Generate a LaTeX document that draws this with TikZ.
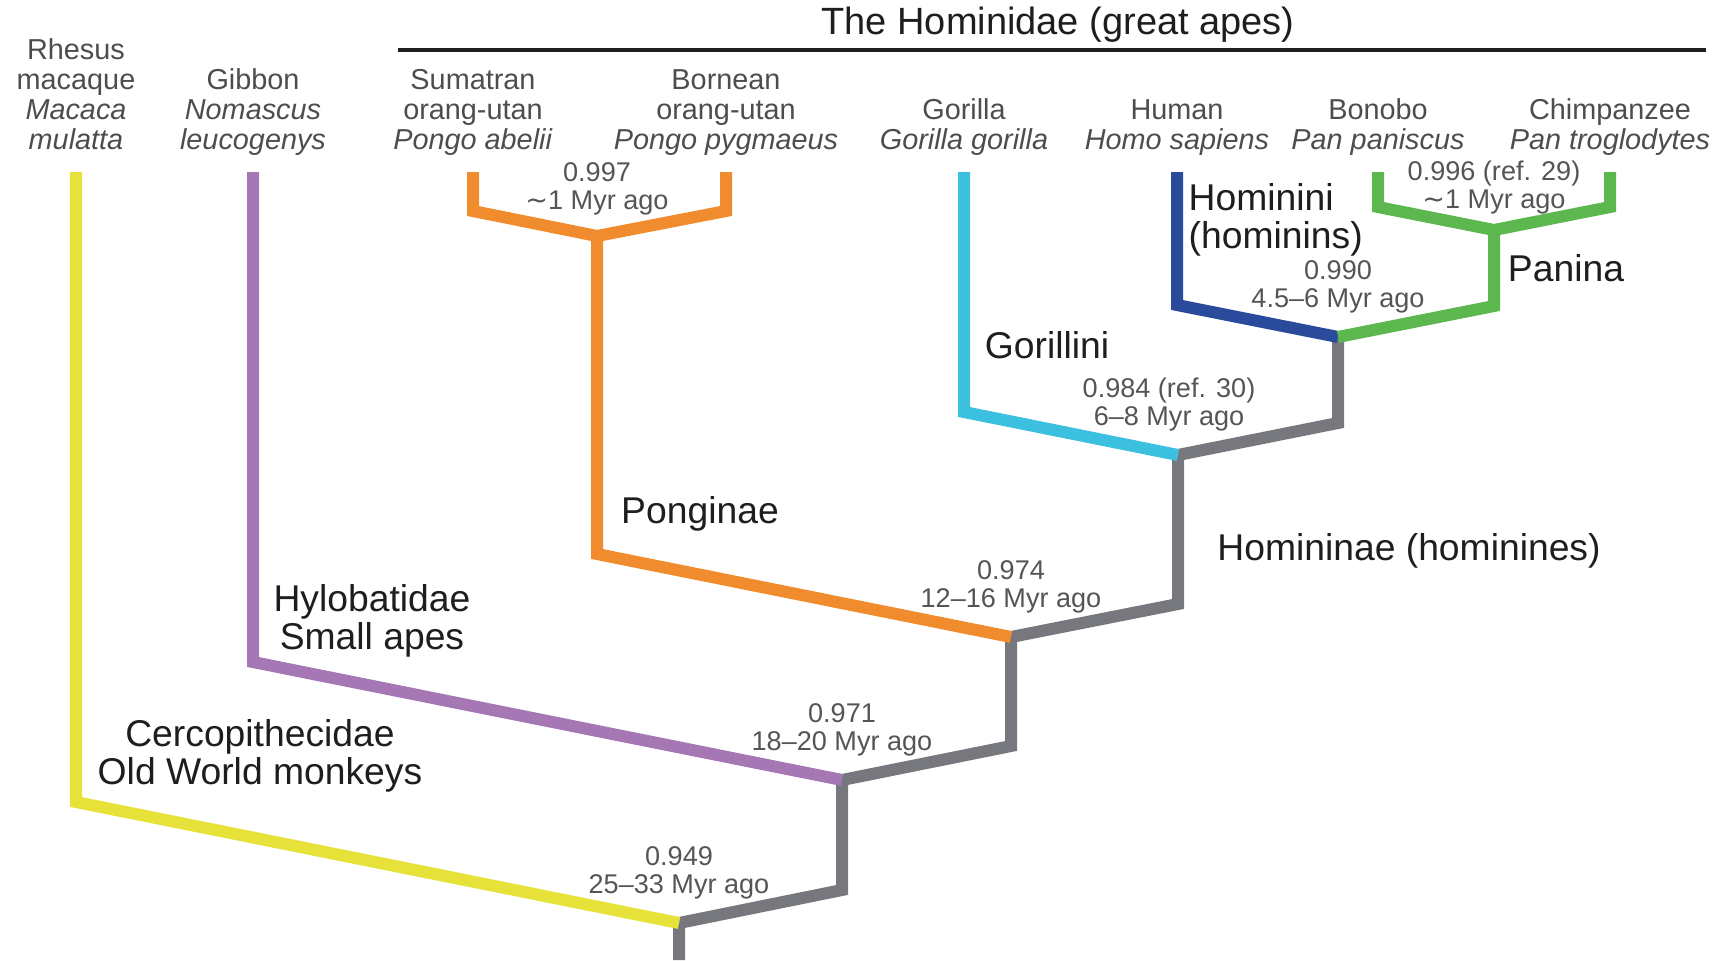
\documentclass[tikz,border=0pt]{standalone}
\usepackage{fontspec}
\setmainfont{Liberation Sans}
\newfontfamily\tildefont{DejaVu Sans}
\usepackage{tikz}
\usetikzlibrary{positioning, calc}
\definecolor{monkeyyellow}{HTML}{E6E23A}
\definecolor{gibbonpurple}{HTML}{A577B5}
\definecolor{orangorange}{HTML}{F08C2E}
\definecolor{gorillacyan}{HTML}{3CC0E0}
\definecolor{humanblue}{HTML}{2A4A9B}
\definecolor{pangreen}{HTML}{5CB84E}
\definecolor{stemgray}{HTML}{77787E}
\definecolor{labelgray}{HTML}{4D4D4D}
\definecolor{agegray}{HTML}{555555}
\definecolor{dark}{HTML}{1E1E1E}
\newcommand{\about}{{\tildefont ∼}}
\tikzset{
    branch/.style={
        line width=0.12cm, draw=#1, line join=miter, line cap=butt
    },
    branch/.default=stemgray,
    specieslab/.style={
        font=\fontsize{8.2}{8.5}\selectfont, text=labelgray,
        align=center, inner sep=0pt
    },
    agelab/.style={
        font=\fontsize{7.7}{8}\selectfont, text=agegray,
        align=center, inner sep=0pt
    },
    cladelab/.style={
        font=\fontsize{10.6}{10.8}\selectfont, text=dark,
        align=center, inner sep=0pt
    },
}

\begin{document}
\begin{tikzpicture}[x=0.01cm, y=-0.01cm]
    \useasboundingbox (0,0) rectangle (1718,960);

    % split points
    \coordinate (root) at (679,923);
    \coordinate (apes) at (842,780);
    \coordinate (hominidae) at (1011,637);
    \coordinate (homininae) at (1178,455);
    \coordinate (hominini) at (1338,337);
    \coordinate (panina) at (1494,230);
    \coordinate (pongo) at (597,236);

    % tips
    \coordinate (rhesus-tip) at (76,172);
    \coordinate (gibbon-tip) at (253,172);
    \coordinate (sumatran-tip) at (473,172);
    \coordinate (bornean-tip) at (726,172);
    \coordinate (gorilla-tip) at (964,172);
    \coordinate (human-tip) at (1177,172);
    \coordinate (bonobo-tip) at (1378,172);
    \coordinate (chimp-tip) at (1610,172);

    % bends
    \coordinate (rhesus-bend) at (76,802);
    \coordinate (gibbon-bend) at (253,662);
    \coordinate (pongo-bend) at (597,554);
    \coordinate (gorilla-bend) at (964,412);
    \coordinate (human-bend) at (1177,305);
    \coordinate (sumatran-bend) at (473,211);
    \coordinate (bornean-bend) at (726,211);
    \coordinate (bonobo-bend) at (1378,207);
    \coordinate (chimp-bend) at (1610,207);
    \coordinate (apes-bend) at (842,890);
    \coordinate (hominidae-bend) at (1011,746);
    \coordinate (homininae-bend) at (1178,604);
    \coordinate (hominini-bend) at (1338,423);
    \coordinate (panina-bend) at (1494,306);
    \coordinate (root-foot) at (679,960);

    % grey stem
    \draw[branch] (root-foot) -- (root) -- (apes-bend) -- (apes);
    \draw[branch] (apes) -- (hominidae-bend) -- (hominidae);
    \draw[branch] (hominidae) -- (homininae-bend) -- (homininae);
    \draw[branch] (homininae) -- (hominini-bend) -- (hominini);

    % coloured clades
    \draw[branch=monkeyyellow] (rhesus-tip) -- (rhesus-bend) -- (root);
    \draw[branch=gibbonpurple] (gibbon-tip) -- (gibbon-bend) -- (apes);
    \draw[branch=orangorange] (pongo) -- (pongo-bend) -- (hominidae);
    \draw[branch=orangorange] (sumatran-tip) -- (sumatran-bend) -- (pongo) -- (bornean-bend) -- (bornean-tip);
    \draw[branch=gorillacyan] (gorilla-tip) -- (gorilla-bend) -- (homininae);
    \draw[branch=humanblue] (human-tip) -- (human-bend) -- (hominini);
    \draw[branch=pangreen] (hominini) -- (panina-bend) -- (panina);
    \draw[branch=pangreen] (bonobo-tip) -- (bonobo-bend) -- (panina) -- (chimp-bend) -- (chimp-tip);

    % species
    \node[specieslab, above=0.16cm of rhesus-tip] (rhesus) {Rhesus\\macaque\\\textit{Macaca}\\\textit{mulatta}\vphantom{g}};
    \node[specieslab, above=0.16cm of gibbon-tip] (gibbon) {Gibbon\\\textit{Nomascus}\\\textit{leucogenys}};
    \node[specieslab, above=0.16cm of sumatran-tip] (sumatran) {Sumatran\\orang-utan\\\textit{Pongo abelii}};
    \node[specieslab, above=0.16cm of bornean-tip] (bornean) {Bornean\\orang-utan\\\textit{Pongo pygmaeus}};
    \node[specieslab, above=0.16cm of gorilla-tip] (gorilla) {Gorilla\\\textit{Gorilla gorilla}};
    \node[specieslab, above=0.16cm of human-tip] (human) {Human\\\textit{Homo sapiens}};
    \node[specieslab, above=0.16cm of bonobo-tip] (bonobo) {Bonobo\\\textit{Pan paniscus}};
    \node[specieslab, above=0.16cm of chimp-tip] (chimp) {Chimpanzee\\\textit{Pan troglodytes}};

    % great apes bar
    \coordinate (bar-left) at (398,50);
    \coordinate (bar-right) at (1706,50);
    \draw[line width=0.04cm, dark] (bar-left) -- (bar-right);
    \node[font=\fontsize{10.8}{12}\selectfont, text=dark, inner sep=0pt] (greatapes) at (1058,25) {The Hominidae (great apes)};

    % similarity and age at each split
    \node[agelab, above=0.2cm of root] (root-age) {0.949\\25--33 Myr ago\strut};
    \node[agelab, above=0.2cm of apes] (apes-age) {0.971\\18--20 Myr ago\strut};
    \node[agelab, above=0.2cm of hominidae] (hominidae-age) {0.974\\12--16 Myr ago\strut};
    \node[agelab, above=0.2cm of homininae, xshift=-0.09cm] (homininae-age) {0.984 (ref. 30)\\6--8 Myr ago\strut};
    \node[agelab, above=0.2cm of hominini] (hominini-age) {0.990\\4.5--6 Myr ago\strut};
    \node[agelab, above=0.12cm of panina] (panina-age) {0.996 (ref. 29)\\\about1 Myr ago\strut};
    \node[agelab, above=0.17cm of pongo] (pongo-age) {0.997\\\about1 Myr ago\strut};

    % clade names
    \node[cladelab] (cercopithecidae) at (260,756) {Cercopithecidae\\Old World monkeys};
    \node[cladelab] (hylobatidae) at (372,621) {Hylobatidae\\Small apes};
    \node[cladelab] (ponginae) at (700,514) {Ponginae};
    \node[cladelab] (homininae-lab) at (1409,551) {Homininae (hominines)};
    \node[cladelab] (gorillini) at (1047,345) {Gorillini};
    \node[cladelab, align=left, anchor=west] (hominini-lab) at (1188,220) {Hominini\\(hominins)};
    \node[cladelab] (panina-lab) at (1566,268) {Panina};
\end{tikzpicture}
\end{document}
